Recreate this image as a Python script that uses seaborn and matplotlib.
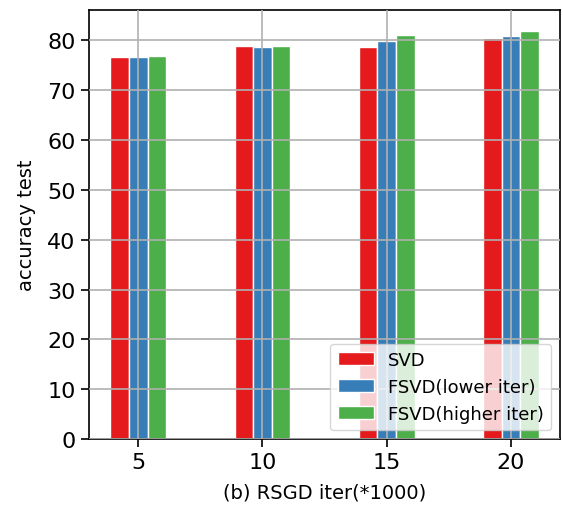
import numpy as np
import pandas as pd
import matplotlib
matplotlib.use("Agg")
import matplotlib.pyplot as plt
import seaborn as sns

iters = [5, 10, 15, 20]
svd = [76.6, 78.85, 78.7, 80.5]
fsvd_lower = [76.6, 78.7, 79.8, 80.95]
fsvd_higher = [76.9, 78.8, 81.15, 81.95]
series = ["SVD", "FSVD(lower iter)", "FSVD(higher iter)"]

colors = sns.color_palette("Set1", 3)
sns.set_style("ticks")
plt.rcParams["font.family"] = ["DejaVu Sans"]
plt.rcParams["text.color"] = "black"
plt.rcParams["axes.labelcolor"] = "black"
plt.rcParams["xtick.color"] = "black"
plt.rcParams["ytick.color"] = "black"

fig, ax = plt.subplots(figsize=(5.63, 5.06), dpi=100)
fig.subplots_adjust(left=0.158, right=0.995, top=0.978, bottom=0.13)

width = 0.75
for i, (name, vals) in enumerate(zip(series, [svd, fsvd_lower, fsvd_higher])):
    x = np.array(iters) + (i - 1) * width
    ax.bar(x, vals, width=width, color=colors[i], edgecolor="white", linewidth=1, label=name, zorder=2)

ax.set_xticks(iters)
ax.grid(True, color="#b0b0b0", linewidth=1.2, zorder=0)
ax.set_axisbelow(False)
for s in ax.spines.values():
    s.set_color("black")
    s.set_linewidth(1.2)
ax.tick_params(labelsize=16, length=6, width=1.2, color="black")
ax.set_ylabel("accuracy test", fontsize=14, labelpad=8)
ax.set_xlabel("(b) RSGD iter(*1000)", fontsize=14, labelpad=7)
ax.legend(loc="lower right", fontsize=13, fancybox=True, framealpha=0.8)

fig.savefig("out.png", dpi=100)
